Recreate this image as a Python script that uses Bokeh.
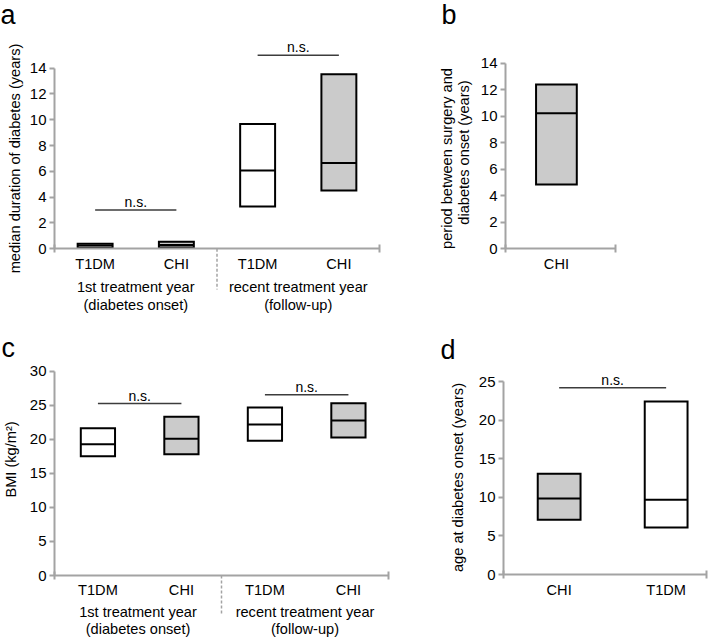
import math
from bokeh.plotting import figure
from bokeh.layouts import column, row
from bokeh.models import Range1d, FixedTicker, LinearAxis, CustomJSTickFormatter
from bokeh.core.properties import value
from bokeh.embed import file_html
from bokeh.resources import INLINE

# ---------------- data ----------------
# panel a: median duration of diabetes (years)
a_cats = ["T1DM", "CHI", "T1DM", "CHI"]
a_groups = ["1st treatment year", "recent treatment year"]
a_groups_sub = ["(diabetes onset)", "(follow-up)"]
a_q1 = [0.08, 0.10, 3.27, 4.51]
a_median = [0.25, 0.30, 6.06, 6.65]
a_q3 = [0.39, 0.54, 9.67, 13.53]
a_filled = [False, True, False, True]
a_sig = [(0, 1, 3.0), (2, 3, 15.0)]
a_yticks = [0, 2, 4, 6, 8, 10, 12, 14]

# panel b: period between surgery and diabetes onset (years)
b_cats = ["CHI"]
b_q1 = [4.85]
b_median = [10.23]
b_q3 = [12.39]
b_filled = [True]
b_yticks = [0, 2, 4, 6, 8, 10, 12, 14]

# panel c: BMI (kg/m2)
c_cats = ["T1DM", "CHI", "T1DM", "CHI"]
c_groups = ["1st treatment year", "recent treatment year"]
c_groups_sub = ["(diabetes onset)", "(follow-up)"]
c_q1 = [17.52, 17.81, 19.78, 20.26]
c_median = [19.28, 20.07, 22.17, 22.76]
c_q3 = [21.63, 23.30, 24.67, 25.30]
c_filled = [False, True, False, True]
c_sig = [(0, 1, 25.25), (2, 3, 26.55)]
c_yticks = [0, 5, 10, 15, 20, 25, 30]

# panel d: age at diabetes onset (years)
d_cats = ["CHI", "T1DM"]
d_q1 = [7.08, 6.09]
d_median = [9.84, 9.67]
d_q3 = [13.04, 22.40]
d_filled = [True, False]
d_sig = [(0, 1, 24.2)]
d_yticks = [0, 5, 10, 15, 20, 25]

# ---------------- style ----------------
FONT = "Liberation Sans"
AXIS = "#a3a3a3"
FILL = "#cbcbcb"
SIGC = "#3c3c3c"
TICK_FS = "15px"
LAB_FS = "14.6px"
NS_FS = "14px"
LET_FS = "27px"


class Panel:
    """A figure whose frame fills the canvas; axes are pinned at data 0."""

    def __init__(self, cl, ct, w, h, x0px, xpxu, y0px, ypxu, ytop, xend, yticks):
        self.x0px, self.xpxu, self.y0px, self.ypxu = x0px, xpxu, y0px, ypxu
        xr = ((cl - x0px) / xpxu, (cl + w - x0px) / xpxu)
        yr = ((y0px - (ct + h)) / ypxu, (y0px - ct) / ypxu)
        p = figure(width=w, height=h, x_range=Range1d(*xr), y_range=Range1d(*yr),
                   x_axis_location=None, y_axis_location=None,
                   min_border=0, min_border_left=0, min_border_right=0,
                   min_border_top=0, min_border_bottom=0,
                   toolbar_location=None, output_backend="svg")
        p.outline_line_color = None
        p.xgrid.visible = False
        p.ygrid.visible = False
        p.background_fill_color = "white"
        p.border_fill_color = "white"
        self.p = p

        ya = LinearAxis(fixed_location=0, bounds=(0, ytop), ticker=FixedTicker(ticks=yticks))
        ya.minor_tick_line_color = None
        ya.major_tick_in = 0
        ya.major_tick_out = 5
        ya.axis_line_color = AXIS
        ya.axis_line_width = 2
        ya.major_tick_line_color = AXIS
        ya.major_tick_line_width = 2
        ya.major_label_text_font = FONT
        ya.major_label_text_font_size = TICK_FS
        ya.major_label_text_color = "black"
        ya.major_label_standoff = 3
        p.add_layout(ya, "left")

        xa = LinearAxis(fixed_location=0, bounds=(0, xend), ticker=FixedTicker(ticks=[0, xend]))
        xa.minor_tick_line_color = None
        xa.major_tick_in = 4
        xa.major_tick_out = 4
        xa.axis_line_color = AXIS
        xa.axis_line_width = 2
        xa.major_tick_line_color = AXIS
        xa.major_tick_line_width = 2
        xa.formatter = CustomJSTickFormatter(code="return ''")
        xa.major_label_text_font_size = "1px"
        p.add_layout(xa, "below")

    def d(self, px, py):
        return ((px - self.x0px) / self.xpxu, (self.y0px - py) / self.ypxu)

    def text(self, x, y, txt, size=LAB_FS, align="center", baseline="middle", angle=0.0):
        self.p.text(x=[x], y=[y], text=[txt], text_font=value(FONT), text_font_size=size,
                    text_align=align, text_baseline=baseline, angle=angle, text_color="black")


def draw_boxes(pn, pos, q1, med, q3, filled, w):
    lefts = [x - w / 2 for x in pos]
    rights = [x + w / 2 for x in pos]
    fills = [FILL if f else "white" for f in filled]
    pn.p.quad(left=lefts, right=rights, bottom=q1, top=q3, fill_color=fills,
              line_color="black", line_width=2, line_join="miter")
    pn.p.segment(x0=lefts, x1=rights, y0=med, y1=med, line_color="black", line_width=2)


def draw_sig(pn, pos, sig):
    for i, j, h in sig:
        pn.p.segment(x0=[pos[i]], x1=[pos[j]], y0=[h], y1=[h], line_color=SIGC, line_width=1.5)
        pn.text((pos[i] + pos[j]) / 2, h, "n.s.", size=NS_FS, baseline="bottom")


def draw_cat_labels(pn, pos, cats, cat_py):
    for x, c in zip(pos, cats):
        pn.text(x, pn.d(0, cat_py)[1], c)


def draw_groups(pn, groups, subs, py1, py2, sep_py):
    centers = [1.0, 3.0]
    for cx, g, s in zip(centers, groups, subs):
        pn.text(cx, pn.d(0, py1)[1], g)
        pn.text(cx, pn.d(0, py2)[1], s)
    pn.p.segment(x0=[2.0], x1=[2.0], y0=[0.0], y1=[pn.d(0, sep_py)[1]],
                 line_color=AXIS, line_width=1.5, line_dash="3 2")


def letter(pn, px, baseline_py, txt):
    # 'bottom' baseline sits one font descent (~0.21 em) below the alphabetic baseline
    pn.text(*pn.d(px, baseline_py + 6), txt, size=LET_FS, align="left", baseline="bottom")


# ---------------- panel a ----------------
A = Panel(0, 0, 392, 320, 54, 81.25, 248.3, 12.91, 14, 4, a_yticks)
a_pos = [i + 0.5 for i in range(len(a_cats))]
draw_boxes(A, a_pos, a_q1, a_median, a_q3, a_filled, 0.43)
draw_sig(A, a_pos, a_sig)
draw_cat_labels(A, a_pos, a_cats, 263)
draw_groups(A, a_groups, a_groups_sub, 286, 304, 289)
A.text(*A.d(14, 158), "median duration of diabetes (years)", angle=math.pi / 2)
letter(A, 0, 23, "a")

# ---------------- panel b ----------------
B = Panel(392, 0, 316, 320, 505, 101.85, 248.3, 13.26, 14, 1.08, b_yticks)
b_pos = [0.5]
draw_boxes(B, b_pos, b_q1, b_median, b_q3, b_filled, 0.40)
draw_cat_labels(B, b_pos, b_cats, 263)
B.text(*B.d(446, 158), "period between surgery and", angle=math.pi / 2)
B.text(*B.d(463, 152), "diabetes onset (years)", angle=math.pi / 2)
letter(B, 441, 23, "b")

# ---------------- panel c ----------------
C = Panel(0, 320, 392, 317, 54, 83.5, 575, 6.81, 30, 4, c_yticks)
c_pos = [i + 0.52 for i in range(len(c_cats))]
draw_boxes(C, c_pos, c_q1, c_median, c_q3, c_filled, 0.41)
draw_sig(C, c_pos, c_sig)
draw_cat_labels(C, c_pos, c_cats, 589)
draw_groups(C, c_groups, c_groups_sub, 611, 628, 614)
C.text(*C.d(10, 459), "BMI (kg/m²)", angle=math.pi / 2)
letter(C, 1, 356, "c")

# ---------------- panel d ----------------
D = Panel(392, 320, 316, 317, 503, 107.0, 574, 7.72, 25, 1.9, d_yticks)
d_pos = [i + 0.52 for i in range(len(d_cats))]
draw_boxes(D, d_pos, d_q1, d_median, d_q3, d_filled, 0.40)
draw_sig(D, d_pos, d_sig)
draw_cat_labels(D, d_pos, d_cats, 589)
D.text(*D.d(457, 477), "age at diabetes onset (years)", angle=math.pi / 2)
letter(D, 440, 358, "d")

layout = column(row(A.p, B.p), row(C.p, D.p))
open("out.html", "w").write(file_html(layout, INLINE))
